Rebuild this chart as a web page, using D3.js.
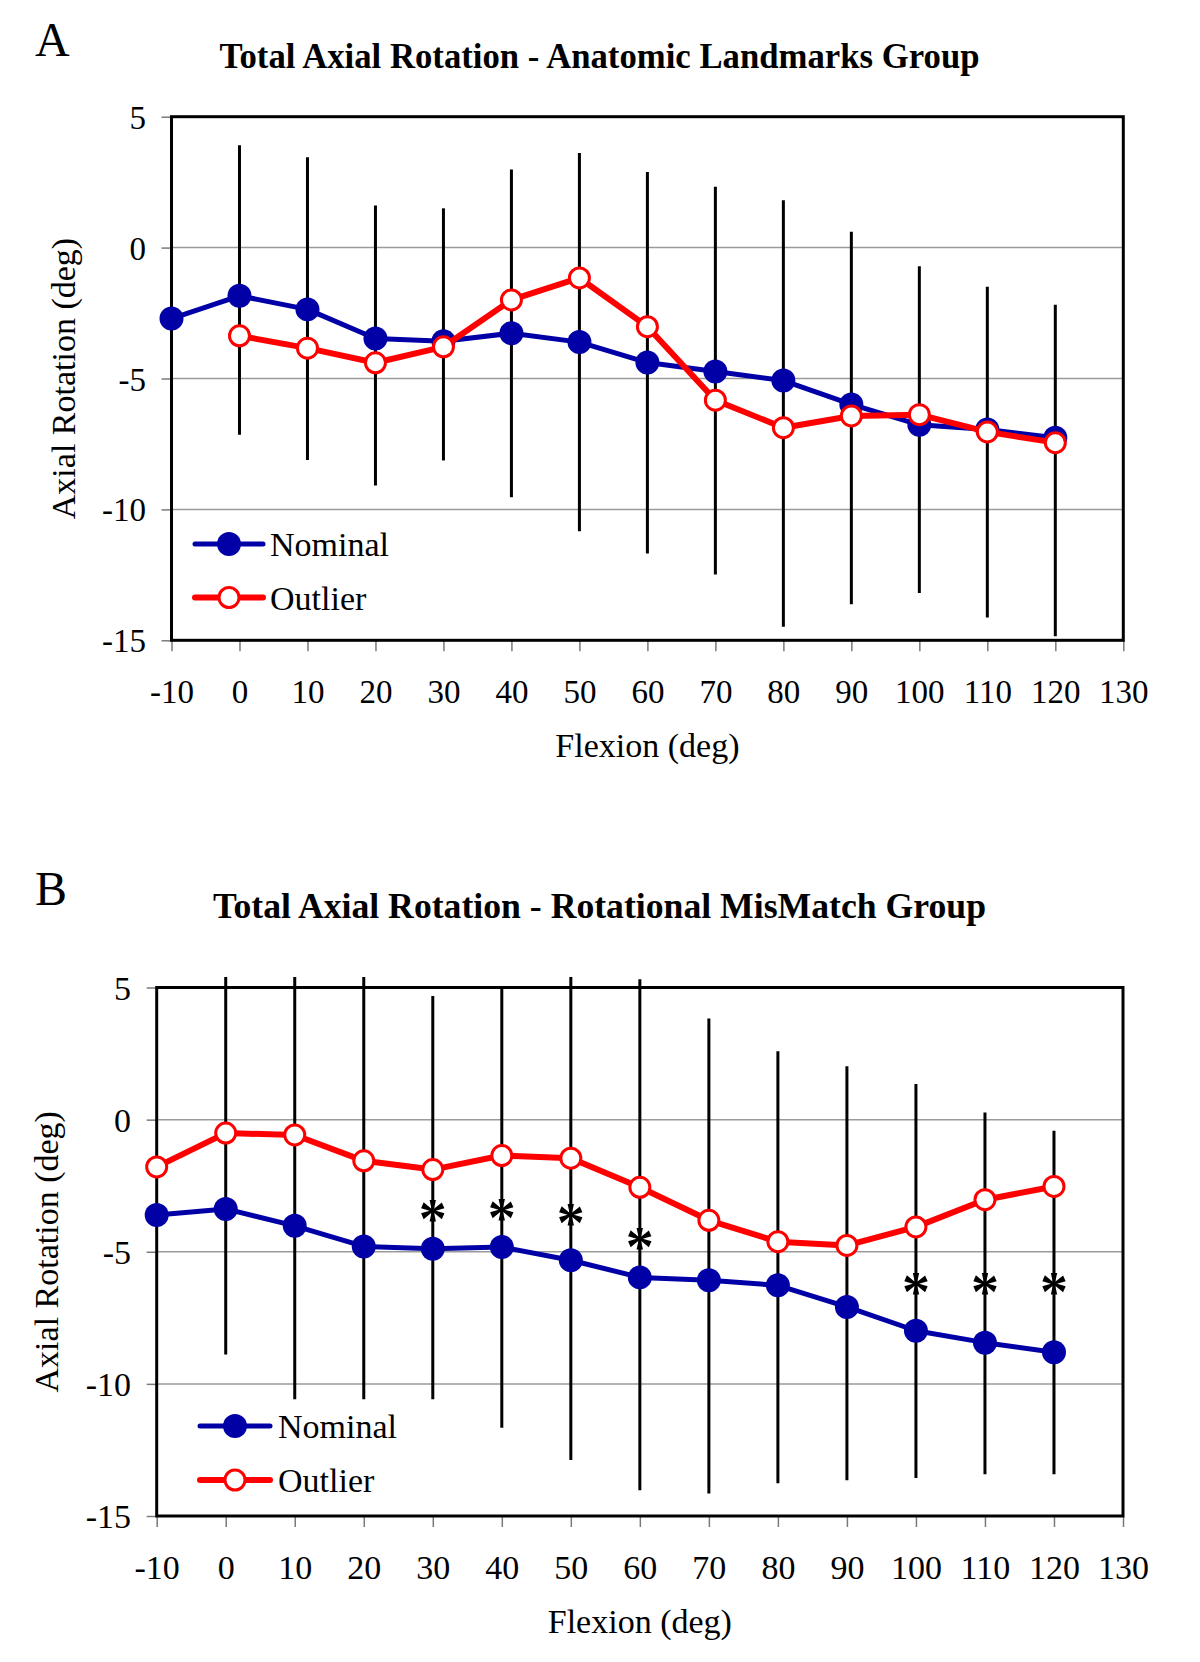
<!DOCTYPE html>
<html><head><meta charset="utf-8">
<script src="https://cdn.jsdelivr.net/npm/d3@7"></script>
<style>
html,body{margin:0;padding:0;background:#fff;}
svg{display:block;}
text{font-family:"Liberation Serif","Times New Roman",serif;fill:#000;}
</style></head><body>
<svg id="chart" width="1200" height="1662"></svg>
<script>
// ---------- data ----------
const flexion = [-10,0,10,20,30,40,50,60,70,80,90,100,110,120];
const xTicks = [-10,0,10,20,30,40,50,60,70,80,90,100,110,120,130];
const yTicks = [5,0,-5,-10,-15];
const gridValues = [0,-5,-10];
const seriesNames = ["Nominal","Outlier"];
const xTitle = "Flexion (deg)";
const yTitle = "Axial Rotation (deg)";

// Panel A - Anatomic Landmarks Group
const aTitle = "Total Axial Rotation - Anatomic Landmarks Group";
const aNominal = [-2.71,-1.84,-2.36,-3.47,-3.58,-3.27,-3.61,-4.39,-4.73,-5.08,-5.99,-6.77,-6.95,-7.26];
const aOutlier = [null,-3.37,-3.84,-4.40,-3.79,-2.00,-1.16,-3.02,-5.83,-6.88,-6.43,-6.38,-7.04,-7.45];
const aBarX    = [0,10,20,30,40,50,60,70,80,90,100,110,120];
const aBarHigh = [3.91,3.45,1.61,1.50,2.98,3.61,2.89,2.32,1.81,0.61,-0.71,-1.50,-2.18];
const aBarLow  = [-7.15,-8.11,-9.09,-8.13,-9.54,-10.83,-11.68,-12.49,-14.48,-13.62,-13.19,-14.13,-14.85];
const aSigX = [];
const aSigY = [];

// Panel B - Rotational MisMatch Group
const bTitle = "Total Axial Rotation - Rotational MisMatch Group";
const bNominal = [-3.61,-3.38,-4.02,-4.80,-4.89,-4.82,-5.32,-5.97,-6.08,-6.27,-7.09,-7.99,-8.44,-8.80];
const bOutlier = [-1.79,-0.51,-0.58,-1.56,-1.89,-1.36,-1.46,-2.56,-3.81,-4.62,-4.76,-4.06,-3.03,-2.53];
const bBarX    = [0,10,20,30,40,50,60,70,80,90,100,110,120];
const bBarHigh = [5.40,5.40,5.40,4.68,4.95,5.40,5.31,3.83,2.59,2.02,1.35,0.27,-0.42];
const bBarLow  = [-8.89,-10.58,-10.58,-10.58,-11.66,-12.88,-14.03,-14.15,-13.76,-13.65,-13.56,-13.42,-13.42];
const bSigX = [30,40,50,60,100,110,120];
const bSigY = [-3.43,-3.38,-3.56,-4.48,-6.2,-6.2,-6.2];

// ---------- layout / style ----------
const BLUE = "#0000a6", RED = "#ff0000";
const panels = [
  {letter:"A", letterY:56, title:aTitle, titleY:68, titleLen:760,
   nominal:aNominal, outlier:aOutlier, barX:aBarX, barHigh:aBarHigh, barLow:aBarLow, sigX:aSigX, sigY:aSigY,
   l:171.5, r:1123.3, t:116.7, b:640.3, yLabX:146, tickFont:33, yTitleX:74.5,
   legX0:195, legX1:263, legY:[544,597.5], legTextX:270},
  {letter:"B", letterY:905, title:bTitle, titleY:917.7, titleLen:773,
   nominal:bNominal, outlier:bOutlier, barX:bBarX, barHigh:bBarHigh, barLow:bBarLow, sigX:bSigX, sigY:bSigY,
   l:156.7, r:1123, t:987.5, b:1516, yLabX:131, tickFont:34, yTitleX:57.5,
   legX0:200, legX1:270, legY:[1426,1480], legTextX:278}
];

const svg = d3.select("#chart");

function drawPanel(p){
  const g = svg.append("g");
  const x = d3.scaleLinear().domain([-10,130]).range([p.l,p.r]);
  const y = d3.scaleLinear().domain([-15,5]).range([p.b,p.t]);

  // panel letter & title
  g.append("text").attr("x",35).attr("y",p.letterY).attr("font-size",48).text(p.letter);
  g.append("text").attr("x",599.5).attr("y",p.titleY).attr("text-anchor","middle")
    .attr("font-size",36).attr("font-weight","bold")
    .attr("textLength",p.titleLen).attr("lengthAdjust","spacingAndGlyphs").text(p.title);

  // gridlines
  g.selectAll(".grid").data(gridValues).join("line")
    .attr("x1",p.l).attr("x2",p.r).attr("y1",d=>y(d)).attr("y2",d=>y(d))
    .attr("stroke","#9a9a9a").attr("stroke-width",1.5);

  // x axis
  const xa = g.append("g").attr("transform",`translate(0,${p.b})`)
    .call(d3.axisBottom(x).tickValues(xTicks).tickSize(11).tickFormat(d=>String(d)));
  xa.select(".domain").remove();
  xa.selectAll(".tick line").attr("stroke","#7a7a7a").attr("stroke-width",1.5);
  xa.selectAll(".tick text").attr("y",63).attr("dy",0).attr("font-size",p.tickFont)
    .attr("font-family","Liberation Serif, Times New Roman, serif").attr("fill","#000");

  // y axis
  const ya = g.append("g").attr("transform",`translate(${p.l},0)`)
    .call(d3.axisLeft(y).tickValues(yTicks).tickSize(10).tickFormat(d=>String(d)));
  ya.select(".domain").remove();
  ya.selectAll(".tick line").attr("stroke","#7a7a7a").attr("stroke-width",1.5);
  ya.selectAll(".tick text").attr("x",p.yLabX - p.l).attr("dy","0.35em").attr("font-size",p.tickFont)
    .attr("font-family","Liberation Serif, Times New Roman, serif").attr("fill","#000");

  // axis titles
  g.append("text").attr("x",(p.l+p.r)/2).attr("y",p.b+117).attr("text-anchor","middle")
    .attr("font-size",34).text(xTitle);
  g.append("text").attr("transform",`translate(${p.yTitleX},${(p.t+p.b)/2}) rotate(-90)`)
    .attr("text-anchor","middle").attr("font-size",34).text(yTitle);

  // error bars
  g.selectAll(".bar").data(p.barX.map((v,i)=>({x:v,hi:p.barHigh[i],lo:p.barLow[i]}))).join("line")
    .attr("x1",d=>x(d.x)).attr("x2",d=>x(d.x)).attr("y1",d=>y(d.hi)).attr("y2",d=>y(d.lo))
    .attr("stroke","#000").attr("stroke-width",3);

  // plot box
  g.append("rect").attr("x",p.l).attr("y",p.t).attr("width",p.r-p.l).attr("height",p.b-p.t)
    .attr("fill","none").attr("stroke","#000").attr("stroke-width",3);

  // series
  const nomData = flexion.map((v,i)=>({x:v,y:p.nominal[i]}));
  const outData = flexion.map((v,i)=>({x:v,y:p.outlier[i]})).filter(d=>d.y!==null);
  const line = d3.line().x(d=>x(d.x)).y(d=>y(d.y));
  g.append("path").datum(nomData).attr("d",line).attr("fill","none").attr("stroke",BLUE)
    .attr("stroke-width",5).attr("stroke-linejoin","round");
  g.selectAll(".nom").data(nomData).join("circle").attr("cx",d=>x(d.x)).attr("cy",d=>y(d.y))
    .attr("r",12).attr("fill",BLUE);
  g.append("path").datum(outData).attr("d",line).attr("fill","none").attr("stroke",RED)
    .attr("stroke-width",6).attr("stroke-linejoin","round");
  g.selectAll(".out").data(outData).join("circle").attr("cx",d=>x(d.x)).attr("cy",d=>y(d.y))
    .attr("r",10).attr("fill","#fff").attr("stroke",RED).attr("stroke-width",3);

  // significance asterisks
  g.selectAll(".sig").data(p.sigX.map((v,i)=>({x:v,y:p.sigY[i]}))).join("text")
    .attr("x",d=>x(d.x)).attr("y",d=>y(d.y)+28).attr("text-anchor","middle")
    .attr("font-size",56).attr("font-weight","bold").text("*");

  // legend
  const cols = [BLUE,RED];
  seriesNames.forEach((name,i)=>{
    const ly = p.legY[i];
    g.append("line").attr("x1",p.legX0).attr("x2",p.legX1).attr("y1",ly).attr("y2",ly)
      .attr("stroke",cols[i]).attr("stroke-width",i===0?5:6).attr("stroke-linecap","round");
    const cx = (p.legX0+p.legX1)/2;
    if(i===0){
      g.append("circle").attr("cx",cx).attr("cy",ly).attr("r",12).attr("fill",BLUE);
    } else {
      g.append("circle").attr("cx",cx).attr("cy",ly).attr("r",10).attr("fill","#fff")
        .attr("stroke",RED).attr("stroke-width",3);
    }
    g.append("text").attr("x",p.legTextX).attr("y",ly+12).attr("font-size",34).text(name);
  });
}
panels.forEach(drawPanel);
</script>
</body></html>
